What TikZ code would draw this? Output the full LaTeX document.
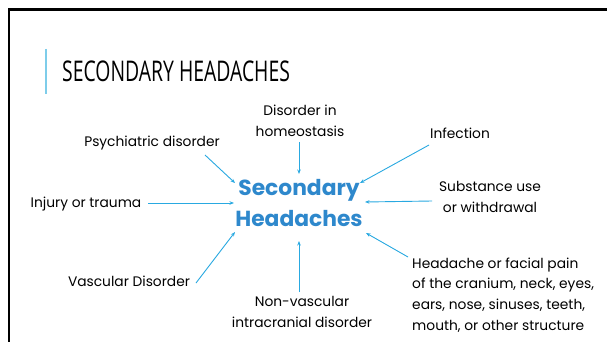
\documentclass[tikz,border=0pt]{standalone}
\usepackage{fontspec}
\setmainfont{Poppins}
\newfontfamily\titlefont{Open Sans}[FakeStretch=0.68]
\usetikzlibrary{arrows.meta}
\definecolor{linkblue}{HTML}{29A9E1}
\definecolor{centerblue}{HTML}{2E88CC}
\definecolor{barblue}{HTML}{7ECDEA}
\tikzset{
  lbl/.style={inner sep=0pt, font=\fontsize{13.8}{20.8}\selectfont, align=center, text=black},
  conn/.style={draw=linkblue, line width=0.9pt, -{Stealth[length=4.5pt,width=3.5pt]}},
}
\begin{document}
\begin{tikzpicture}[x=1pt,y=-1pt]
\useasboundingbox (0,0) rectangle (607,342);
\fill[white] (0,0) rectangle (607,342);
\draw[line width=2.6pt] (9,342) -- (9,9.3) -- (607,9.3);
\draw[barblue, line width=1.5pt] (46,49) -- (46,94);
\node[anchor=base west, inner sep=0pt, font=\titlefont\fontsize{28.5}{28.5}\selectfont] (title) at (62,82) {SECONDARY HEADACHES};

\node[inner sep=0pt, font=\bfseries\fontsize{21.8}{31}\selectfont, text=centerblue, align=center] (c) at (299,203) {Secondary\\Headaches};

\node[lbl] (home) at (300,121) {Disorder in\\homeostasis};
\node[lbl] (psy) at (152,143) {Psychiatric disorder};
\node[lbl] (inf) at (460,133) {Infection};
\node[lbl] (inj) at (86,204) {Injury or trauma};
\node[lbl] (sub) at (490,197) {Substance use\\or withdrawal};
\node[lbl] (vas) at (129,281) {Vascular Disorder};
\node[lbl] (non) at (302,312) {Non-vascular\\intracranial disorder};
\node[lbl, align=left, anchor=west] (hfp) at (412,295) {Headache or facial pain\\of the cranium, neck, eyes,\\ears, nose, sinuses, teeth,\\mouth, or other structure};

\coordinate (ahome) at (299,174);
\coordinate (apsy) at (235,183);
\coordinate (ainf) at (360,183);
\coordinate (ainj) at (234,203);
\coordinate (asub) at (365,202);
\coordinate (avas) at (235,232);
\coordinate (anon) at (299,241);
\coordinate (ahfp) at (366,233);

\path[conn] (299,142) -- (ahome);
\path[conn] (205,155) -- (apsy);
\path[conn] (429,145) -- (ainf);
\path[conn] (148,203) -- (ainj);
\path[conn] (432,201) -- (asub);
\path[conn] (196,283) -- (avas);
\path[conn] (299,292) -- (anon);
\path[conn] (408,257) -- (ahfp);
\end{tikzpicture}
\end{document}
